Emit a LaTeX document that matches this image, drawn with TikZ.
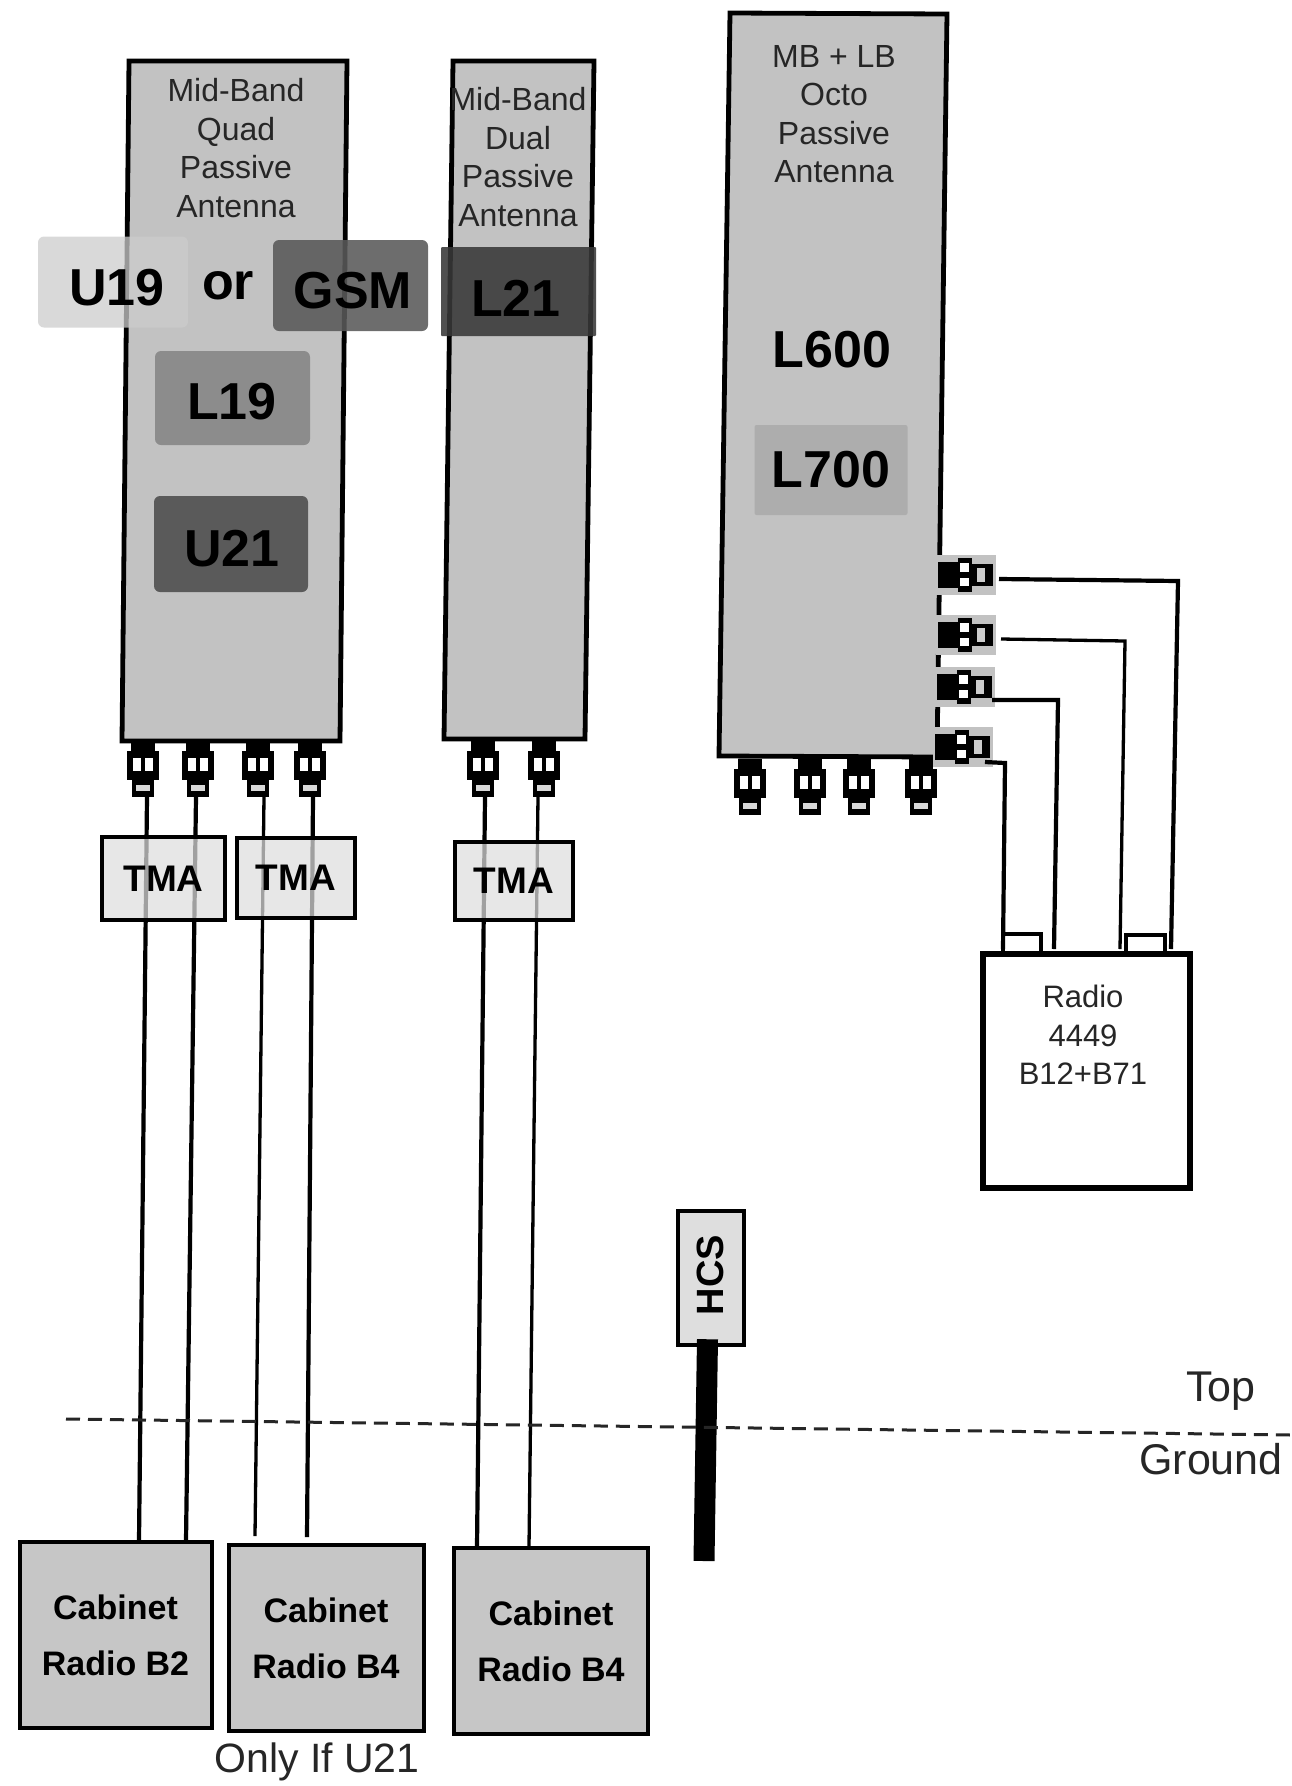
\documentclass[tikz,border=0pt]{standalone}
\usepackage{fontspec}
\setmainfont{Liberation Sans}
\usetikzlibrary{calc}
\tikzset{
  x=1pt,y=-1pt,
  antbody/.style={draw=black,line width=4.8pt,fill=antgray,line join=miter},
  antlabel/.style={font=\fontsize{32}{38.5}\selectfont,align=center,text=black!85,inner sep=0pt},
  bandbox/.style={draw=none,rounded corners=6pt,fill opacity=.88,text opacity=1,font=\fontsize{52}{54}\selectfont\bfseries,inner sep=0pt},
  bandtext/.style={font=\fontsize{52}{54}\selectfont\bfseries,inner sep=0pt},
  tmabox/.style={draw=black,line width=3.8pt,fill=tmagray,fill opacity=.72,text opacity=1,font=\fontsize{37}{39}\selectfont\bfseries,inner sep=0pt},
  cabbox/.style={draw=black,line width=4pt,fill=cabgray,align=center,font=\fontsize{34}{56}\selectfont\bfseries,inner sep=0pt},
  wire/.style={draw=black,line width=4.2pt},
  thinwire/.style={draw=black,line width=3.3pt},
  note/.style={font=\fontsize{43}{45}\selectfont,text=black!85,inner sep=0pt},
}
\definecolor{antgray}{HTML}{C2C2C2}
\definecolor{tmagray}{HTML}{DEDEDE}
\definecolor{cabgray}{HTML}{C6C6C6}
% vertical connector: #1 name, top centre (#2,#3)
\newcommand{\connV}[3]{%
  \coordinate (#1) at (#2,#3);
  \fill[black] ($(#1)+(-12,0)$) rectangle ($(#1)+(12,10)$);
  \fill[black] ($(#1)+(-16,10)$) rectangle ($(#1)+(16,39)$);
  \fill[black] ($(#1)+(-11,39)$) rectangle ($(#1)+(11,56)$);
  \fill[white] ($(#1)+(-10,17)$) rectangle ($(#1)+(-2,30)$);
  \fill[white] ($(#1)+(2,17)$) rectangle ($(#1)+(10,30)$);
  \fill[white!85!black] ($(#1)+(-7,44)$) rectangle ($(#1)+(7,50)$);
  \coordinate (#1-end) at ($(#1)+(0,56)$);
}
% horizontal connector: #1 name, left centre (#2,#3)
\newcommand{\connH}[3]{%
  \coordinate (#1) at (#2,#3);
  \fill[antgray] ($(#1)+(0,-20)$) rectangle ($(#1)+(60,20)$);
  \fill[black] ($(#1)+(2,-13)$) rectangle ($(#1)+(22,13)$);
  \fill[black] ($(#1)+(22,-17)$) rectangle ($(#1)+(36,17)$);
  \fill[black] ($(#1)+(36,-11)$) rectangle ($(#1)+(57,11)$);
  \fill[white] ($(#1)+(24,-12)$) rectangle ($(#1)+(33,-3)$);
  \fill[white] ($(#1)+(24,3)$) rectangle ($(#1)+(33,11)$);
  \fill[white!80!black] ($(#1)+(41,-7)$) rectangle ($(#1)+(49,7)$);
}
\begin{document}
\begin{tikzpicture}
\useasboundingbox (0,0) rectangle (1291,1786);
\coordinate (w1b) at (139,1541);
\coordinate (w2b) at (186,1541);
\coordinate (w3b) at (255,1536);
\coordinate (w4b) at (307,1537);
\coordinate (w5b) at (477,1547);
\coordinate (w6b) at (529,1547);
% quad antenna
\coordinate (a1tl) at (129,61); \coordinate (a1tr) at (347,61);
\coordinate (a1br) at (340,741); \coordinate (a1bl) at (122,741);
\draw[antbody] (a1tl) -- (a1tr) -- (a1br) -- (a1bl) -- cycle;
\node[antlabel] (a1txt) at (236,148) {Mid-Band\\Quad\\Passive\\Antenna};
% dual antenna
\coordinate (a2tl) at (453,61); \coordinate (a2tr) at (594,61);
\coordinate (a2br) at (585,739); \coordinate (a2bl) at (444,739);
\draw[antbody] (a2tl) -- (a2tr) -- (a2br) -- (a2bl) -- cycle;
\node[antlabel] (a2txt) at (518,157) {Mid-Band\\Dual\\Passive\\Antenna};
% octo antenna
\coordinate (a3tl) at (730,13); \coordinate (a3tr) at (947,14);
\coordinate (a3br) at (937,757); \coordinate (a3bl) at (719,756);
\draw[antbody] (a3tl) -- (a3tr) -- (a3br) -- (a3bl) -- cycle;
\node[antlabel] (a3txt) at (834,114) {MB + LB\\Octo\\Passive\\Antenna};
% band boxes
\node[bandbox,fill=black!20,fill opacity=.75,minimum width=150pt,minimum height=91pt] (u19box) at (113,282) {};
\node[bandtext] (u19) at (117,288) {U19};
\node[bandtext] (or) at (228,286) {or};
\node[bandbox,fill=black!65,minimum width=155pt,minimum height=91pt] (gsm) at (350.5,285.5) {};
\node[bandtext] (gsmt) at (353,291) {GSM};
\node[bandbox,rounded corners=1pt,fill=black!78,minimum width=155pt,minimum height=89pt] (l21) at (518.5,291.5) {};
\node[bandtext] (l21t) at (516,298) {L21};
\node[bandbox,fill=black!48,minimum width=155pt,minimum height=94pt] (l19) at (232.5,398) {};
\node[bandtext] (l19t) at (232,402) {L19};
\node[bandbox,fill=black!70,minimum width=154pt,minimum height=96pt] (u21) at (231,544) {};
\node[bandtext] (u21t) at (232,549) {U21};
\node[bandtext] (l600) at (832,350) {L600};
\node[bandbox,rounded corners=2pt,fill=black!33,minimum width=153pt,minimum height=90pt] (l700) at (831,470) {L700};
% connectors
\connV{c1}{143}{741} \connV{c2}{198}{741} \connV{c3}{258}{741} \connV{c4}{310}{741}
\connV{c5}{483}{741} \connV{c6}{544}{741}
\connV{c7}{750}{759} \connV{c8}{810}{759} \connV{c9}{859}{759} \connV{c10}{921}{759}
\connH{h1}{936}{575} \connH{h2}{936}{635} \connH{h3}{935}{687} \connH{h4}{933}{747}
% cabinets
\node[cabbox,minimum width=192pt,minimum height=186pt] (cab1) at (115.5,1635) {Cabinet\\Radio B2};
\node[cabbox,minimum width=195pt,minimum height=186pt] (cab2) at (326,1638) {Cabinet\\Radio B4};
\node[cabbox,minimum width=194pt,minimum height=186pt] (cab3) at (551,1641) {Cabinet\\Radio B4};
% wires
\draw[wire] ($(c1-end)+(4,0)$) -- (w1b);
\draw[wire] ($(c2-end)+(-2,0)$) -- (w2b);
\draw[thinwire] ($(c3-end)+(6,0)$) -- (w3b);
\draw[wire] ($(c4-end)+(3,0)$) -- (w4b);
\draw[wire] ($(c5-end)+(2,0)$) -- (w5b);
\draw[thinwire] ($(c6-end)+(-6,0)$) -- (w6b);
% TMA boxes
\node[tmabox,minimum width=123pt,minimum height=83pt] (tma1) at (163.5,878.5) {TMA};
\node[tmabox,minimum width=118pt,minimum height=80pt] (tma2) at (296,878) {TMA};
\node[tmabox,minimum width=118pt,minimum height=78pt] (tma3) at (514,881) {TMA};
% radio
\node[draw=black,line width=6pt,fill=white,minimum width=207pt,minimum height=234pt,anchor=north west,inner sep=0pt] (radio) at (980,951) {};
\node[antlabel,font=\fontsize{31}{38.5}\selectfont] (radiot) at (1083,1035) {Radio\\4449\\B12+B71};
\coordinate (tab1a) at (1003,951); \coordinate (tab1b) at (1041,951);
\coordinate (tab2a) at (1126,951); \coordinate (tab2b) at (1165,951);
\draw[black,line width=4.5pt,fill=white] (tab1a) -- ++(0,-17) -- ++(38,0) -- (tab1b);
\draw[black,line width=4.5pt,fill=white] (tab2a) -- ++(0,-16) -- ++(39,0) -- (tab2b);
% radio feeders
\coordinate (r1) at (1178,581); \coordinate (r2) at (1125,641);
\coordinate (r3) at (1058,700); \coordinate (r4) at (1005,763);
\draw[wire] (999,579) -- (r1) -- (1171,949);
\draw[thinwire] (1001,639) -- (r2) -- (1120,949);
\draw[wire] (992,700) -- (r3) -- (1054,949);
\draw[wire] (985,762) -- (r4) -- (1003,949);
% HCS
\node[draw=black,line width=4.5pt,fill=tmagray,minimum width=66pt,minimum height=134pt,inner sep=0pt] (hcs) at (711,1278) {};
\node[rotate=90,font=\fontsize{38}{40}\selectfont\bfseries,inner sep=0pt] (hcst) at (710,1275) {HCS};
\coordinate (hcsb) at (704,1561);
\draw[black,line width=21pt] (hcs.south) ++(-3.5,-8) -- (hcsb);
% ground line
\coordinate (g1) at (66,1419); \coordinate (g2) at (1291,1435);
\draw[black!85,line width=3pt,dash pattern=on 14pt off 8pt] (g1) -- (g2);
\node[note] (top) at (1221,1391) {Top};
\node[note] (ground) at (1211,1459) {Ground};
\node[note,font=\fontsize{41}{43}\selectfont] (only) at (317,1762) {Only If U21};
\end{tikzpicture}
\end{document}
